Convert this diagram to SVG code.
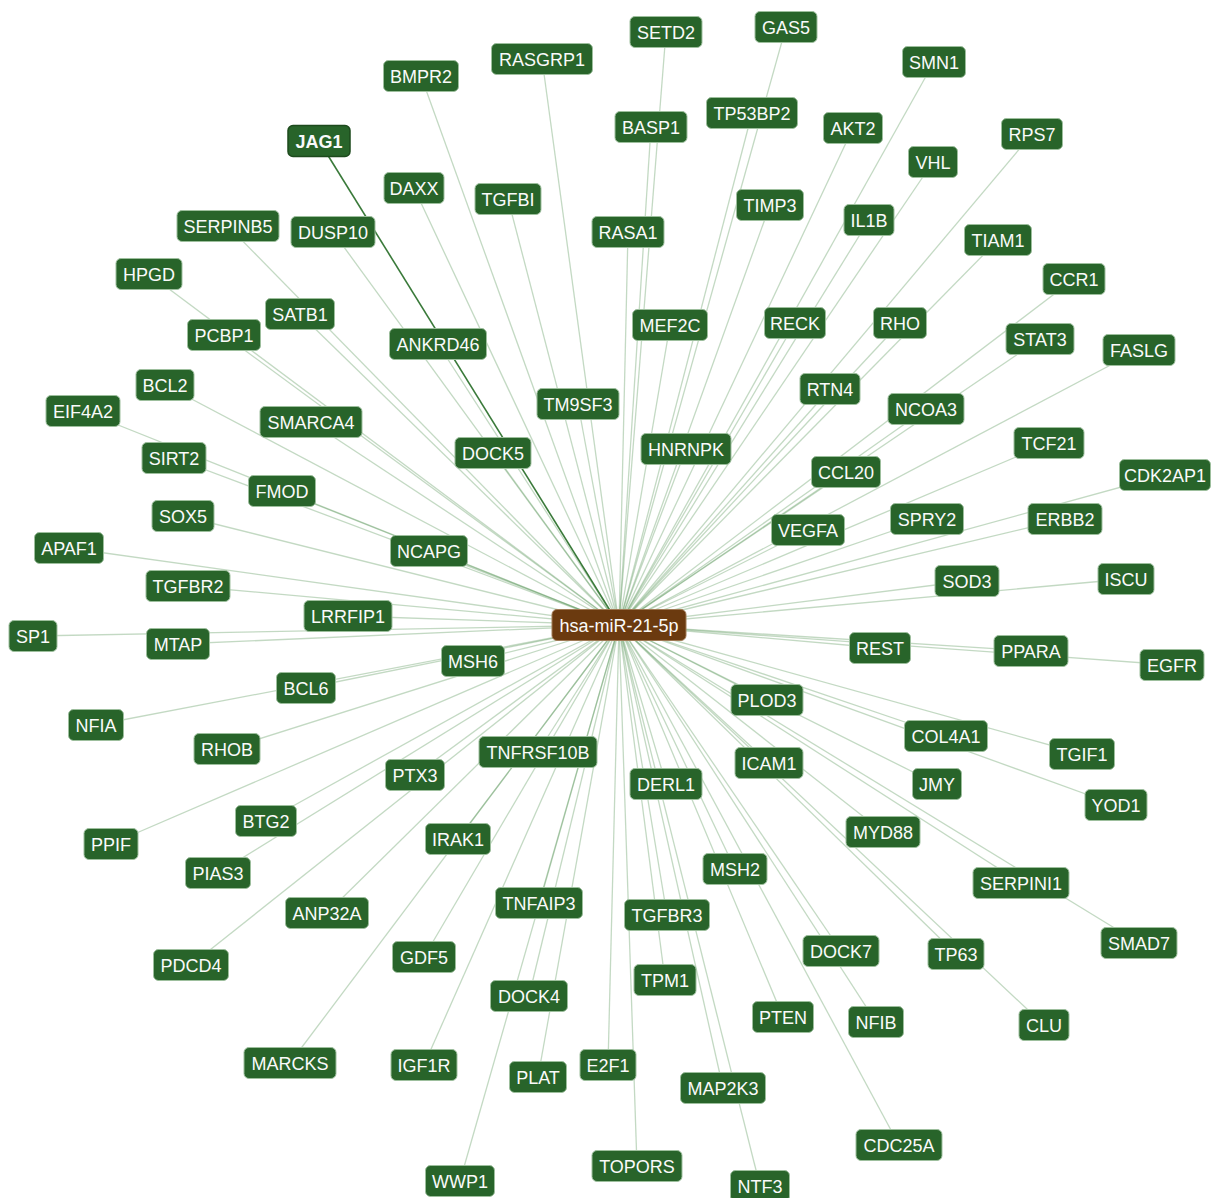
<svg xmlns="http://www.w3.org/2000/svg" width="1211" height="1198" viewBox="0 0 1211 1198">
<style>
.e line{stroke:#4f8f4f;stroke-opacity:0.34;stroke-width:1.3}
.e line.hl{stroke:#3a7a3a;stroke-opacity:1;stroke-width:1.6}
.n rect{fill:#28642a;stroke:#9dbf9d;stroke-width:1}
.n text{fill:#fafafa;font-family:"Liberation Sans",Arial,sans-serif;font-size:18px;text-anchor:middle}
.n.hl rect{stroke:#1d4a1d;stroke-width:1.5}
.n.hl text{font-weight:bold}
.c rect{fill:#6b3a0f;stroke:#a07a55;stroke-width:1}
</style>
<rect width="1211" height="1198" fill="#ffffff"/>
<g id="connectors" class="e">
<line x1="619" y1="625" x2="666" y2="32"/>
<line x1="619" y1="625" x2="786" y2="27"/>
<line x1="619" y1="625" x2="542" y2="59"/>
<line x1="619" y1="625" x2="421" y2="76"/>
<line x1="619" y1="625" x2="934" y2="62"/>
<line x1="619" y1="625" x2="752" y2="113"/>
<line x1="619" y1="625" x2="651" y2="127"/>
<line x1="619" y1="625" x2="853" y2="128"/>
<line x1="619" y1="625" x2="1032" y2="134"/>
<line class="hl" x1="619" y1="625" x2="319" y2="141"/>
<line x1="619" y1="625" x2="933" y2="162"/>
<line x1="619" y1="625" x2="414" y2="188"/>
<line x1="619" y1="625" x2="508" y2="199"/>
<line x1="619" y1="625" x2="770" y2="205"/>
<line x1="619" y1="625" x2="869" y2="220"/>
<line x1="619" y1="625" x2="228" y2="226"/>
<line x1="619" y1="625" x2="333" y2="232"/>
<line x1="619" y1="625" x2="628" y2="232"/>
<line x1="619" y1="625" x2="998" y2="240"/>
<line x1="619" y1="625" x2="149" y2="274"/>
<line x1="619" y1="625" x2="1074" y2="279"/>
<line x1="619" y1="625" x2="300" y2="314"/>
<line x1="619" y1="625" x2="670" y2="325"/>
<line x1="619" y1="625" x2="795" y2="323"/>
<line x1="619" y1="625" x2="900" y2="323"/>
<line x1="619" y1="625" x2="224" y2="335"/>
<line x1="619" y1="625" x2="438" y2="344"/>
<line x1="619" y1="625" x2="1040" y2="339"/>
<line x1="619" y1="625" x2="1139" y2="350"/>
<line x1="619" y1="625" x2="165" y2="385"/>
<line x1="619" y1="625" x2="830" y2="389"/>
<line x1="619" y1="625" x2="83" y2="411"/>
<line x1="619" y1="625" x2="578" y2="404"/>
<line x1="619" y1="625" x2="926" y2="409"/>
<line x1="619" y1="625" x2="311" y2="422"/>
<line x1="619" y1="625" x2="686" y2="449"/>
<line x1="619" y1="625" x2="493" y2="453"/>
<line x1="619" y1="625" x2="1049" y2="443"/>
<line x1="619" y1="625" x2="174" y2="458"/>
<line x1="619" y1="625" x2="846" y2="472"/>
<line x1="619" y1="625" x2="1165" y2="475"/>
<line x1="619" y1="625" x2="282" y2="491"/>
<line x1="619" y1="625" x2="183" y2="516"/>
<line x1="619" y1="625" x2="927" y2="519"/>
<line x1="619" y1="625" x2="1065" y2="519"/>
<line x1="619" y1="625" x2="808" y2="530"/>
<line x1="619" y1="625" x2="69" y2="548"/>
<line x1="619" y1="625" x2="429" y2="551"/>
<line x1="619" y1="625" x2="1126" y2="579"/>
<line x1="619" y1="625" x2="967" y2="581"/>
<line x1="619" y1="625" x2="188" y2="586"/>
<line x1="619" y1="625" x2="348" y2="616"/>
<line x1="619" y1="625" x2="33" y2="636"/>
<line x1="619" y1="625" x2="178" y2="644"/>
<line x1="619" y1="625" x2="880" y2="648"/>
<line x1="619" y1="625" x2="1031" y2="651"/>
<line x1="619" y1="625" x2="1172" y2="665"/>
<line x1="619" y1="625" x2="473" y2="661"/>
<line x1="619" y1="625" x2="306" y2="688"/>
<line x1="619" y1="625" x2="767" y2="700"/>
<line x1="619" y1="625" x2="96" y2="725"/>
<line x1="619" y1="625" x2="946" y2="736"/>
<line x1="619" y1="625" x2="227" y2="749"/>
<line x1="619" y1="625" x2="538" y2="752"/>
<line x1="619" y1="625" x2="1082" y2="754"/>
<line x1="619" y1="625" x2="769" y2="763"/>
<line x1="619" y1="625" x2="415" y2="775"/>
<line x1="619" y1="625" x2="666" y2="784"/>
<line x1="619" y1="625" x2="937" y2="784"/>
<line x1="619" y1="625" x2="1116" y2="805"/>
<line x1="619" y1="625" x2="266" y2="821"/>
<line x1="619" y1="625" x2="883" y2="832"/>
<line x1="619" y1="625" x2="458" y2="839"/>
<line x1="619" y1="625" x2="111" y2="844"/>
<line x1="619" y1="625" x2="735" y2="869"/>
<line x1="619" y1="625" x2="218" y2="873"/>
<line x1="619" y1="625" x2="1021" y2="883"/>
<line x1="619" y1="625" x2="539" y2="903"/>
<line x1="619" y1="625" x2="327" y2="913"/>
<line x1="619" y1="625" x2="667" y2="915"/>
<line x1="619" y1="625" x2="1139" y2="943"/>
<line x1="619" y1="625" x2="841" y2="951"/>
<line x1="619" y1="625" x2="956" y2="954"/>
<line x1="619" y1="625" x2="424" y2="957"/>
<line x1="619" y1="625" x2="191" y2="965"/>
<line x1="619" y1="625" x2="665" y2="980"/>
<line x1="619" y1="625" x2="529" y2="996"/>
<line x1="619" y1="625" x2="783" y2="1017"/>
<line x1="619" y1="625" x2="876" y2="1022"/>
<line x1="619" y1="625" x2="1044" y2="1025"/>
<line x1="619" y1="625" x2="290" y2="1063"/>
<line x1="619" y1="625" x2="424" y2="1065"/>
<line x1="619" y1="625" x2="608" y2="1065"/>
<line x1="619" y1="625" x2="538" y2="1077"/>
<line x1="619" y1="625" x2="723" y2="1088"/>
<line x1="619" y1="625" x2="899" y2="1145"/>
<line x1="619" y1="625" x2="637" y2="1166"/>
<line x1="619" y1="625" x2="460" y2="1181"/>
<line x1="619" y1="625" x2="760" y2="1186"/>
</g>
<g id="nodes">
<g id="n-SETD2" class="n"><rect x="630" y="16.5" width="72" height="31" rx="5"/><text x="666" y="38.5">SETD2</text></g>
<g id="n-GAS5" class="n"><rect x="755" y="11.5" width="62" height="31" rx="5"/><text x="786" y="33.5">GAS5</text></g>
<g id="n-RASGRP1" class="n"><rect x="491.5" y="43.5" width="101" height="31" rx="5"/><text x="542" y="65.5">RASGRP1</text></g>
<g id="n-BMPR2" class="n"><rect x="383.5" y="60.5" width="75" height="31" rx="5"/><text x="421" y="82.5">BMPR2</text></g>
<g id="n-SMN1" class="n"><rect x="902.5" y="46.5" width="63" height="31" rx="5"/><text x="934" y="68.5">SMN1</text></g>
<g id="n-TP53BP2" class="n"><rect x="706.5" y="97.5" width="91" height="31" rx="5"/><text x="752" y="119.5">TP53BP2</text></g>
<g id="n-BASP1" class="n"><rect x="615" y="111.5" width="72" height="31" rx="5"/><text x="651" y="133.5">BASP1</text></g>
<g id="n-AKT2" class="n"><rect x="823.5" y="112.5" width="59" height="31" rx="5"/><text x="853" y="134.5">AKT2</text></g>
<g id="n-RPS7" class="n"><rect x="1001.5" y="118.5" width="61" height="31" rx="5"/><text x="1032" y="140.5">RPS7</text></g>
<g id="n-JAG1" class="n hl"><rect x="288" y="125.5" width="62" height="31" rx="5"/><text x="319" y="147.5">JAG1</text></g>
<g id="n-VHL" class="n"><rect x="908.5" y="146.5" width="49" height="31" rx="5"/><text x="933" y="168.5">VHL</text></g>
<g id="n-DAXX" class="n"><rect x="384" y="172.5" width="60" height="31" rx="5"/><text x="414" y="194.5">DAXX</text></g>
<g id="n-TGFBI" class="n"><rect x="475" y="183.5" width="66" height="31" rx="5"/><text x="508" y="205.5">TGFBI</text></g>
<g id="n-TIMP3" class="n"><rect x="736.5" y="189.5" width="67" height="31" rx="5"/><text x="770" y="211.5">TIMP3</text></g>
<g id="n-IL1B" class="n"><rect x="844" y="204.5" width="50" height="31" rx="5"/><text x="869" y="226.5">IL1B</text></g>
<g id="n-SERPINB5" class="n"><rect x="177" y="210.5" width="102" height="31" rx="5"/><text x="228" y="232.5">SERPINB5</text></g>
<g id="n-DUSP10" class="n"><rect x="291" y="216.5" width="84" height="31" rx="5"/><text x="333" y="238.5">DUSP10</text></g>
<g id="n-RASA1" class="n"><rect x="592" y="216.5" width="72" height="31" rx="5"/><text x="628" y="238.5">RASA1</text></g>
<g id="n-TIAM1" class="n"><rect x="964.5" y="224.5" width="67" height="31" rx="5"/><text x="998" y="246.5">TIAM1</text></g>
<g id="n-HPGD" class="n"><rect x="116" y="258.5" width="66" height="31" rx="5"/><text x="149" y="280.5">HPGD</text></g>
<g id="n-CCR1" class="n"><rect x="1043" y="263.5" width="62" height="31" rx="5"/><text x="1074" y="285.5">CCR1</text></g>
<g id="n-SATB1" class="n"><rect x="265.5" y="298.5" width="69" height="31" rx="5"/><text x="300" y="320.5">SATB1</text></g>
<g id="n-MEF2C" class="n"><rect x="632.5" y="309.5" width="75" height="31" rx="5"/><text x="670" y="331.5">MEF2C</text></g>
<g id="n-RECK" class="n"><rect x="764.5" y="307.5" width="61" height="31" rx="5"/><text x="795" y="329.5">RECK</text></g>
<g id="n-RHO" class="n"><rect x="873.5" y="307.5" width="53" height="31" rx="5"/><text x="900" y="329.5">RHO</text></g>
<g id="n-PCBP1" class="n"><rect x="187.5" y="319.5" width="73" height="31" rx="5"/><text x="224" y="341.5">PCBP1</text></g>
<g id="n-ANKRD46" class="n"><rect x="389.5" y="328.5" width="97" height="31" rx="5"/><text x="438" y="350.5">ANKRD46</text></g>
<g id="n-STAT3" class="n"><rect x="1006" y="323.5" width="68" height="31" rx="5"/><text x="1040" y="345.5">STAT3</text></g>
<g id="n-FASLG" class="n"><rect x="1103" y="334.5" width="72" height="31" rx="5"/><text x="1139" y="356.5">FASLG</text></g>
<g id="n-BCL2" class="n"><rect x="136" y="369.5" width="58" height="31" rx="5"/><text x="165" y="391.5">BCL2</text></g>
<g id="n-RTN4" class="n"><rect x="800" y="373.5" width="60" height="31" rx="5"/><text x="830" y="395.5">RTN4</text></g>
<g id="n-EIF4A2" class="n"><rect x="46" y="395.5" width="74" height="31" rx="5"/><text x="83" y="417.5">EIF4A2</text></g>
<g id="n-TM9SF3" class="n"><rect x="537" y="388.5" width="82" height="31" rx="5"/><text x="578" y="410.5">TM9SF3</text></g>
<g id="n-NCOA3" class="n"><rect x="888" y="393.5" width="76" height="31" rx="5"/><text x="926" y="415.5">NCOA3</text></g>
<g id="n-SMARCA4" class="n"><rect x="260" y="406.5" width="102" height="31" rx="5"/><text x="311" y="428.5">SMARCA4</text></g>
<g id="n-HNRNPK" class="n"><rect x="641" y="433.5" width="90" height="31" rx="5"/><text x="686" y="455.5">HNRNPK</text></g>
<g id="n-DOCK5" class="n"><rect x="455" y="437.5" width="76" height="31" rx="5"/><text x="493" y="459.5">DOCK5</text></g>
<g id="n-TCF21" class="n"><rect x="1014" y="427.5" width="70" height="31" rx="5"/><text x="1049" y="449.5">TCF21</text></g>
<g id="n-SIRT2" class="n"><rect x="142" y="442.5" width="64" height="31" rx="5"/><text x="174" y="464.5">SIRT2</text></g>
<g id="n-CCL20" class="n"><rect x="811.5" y="456.5" width="69" height="31" rx="5"/><text x="846" y="478.5">CCL20</text></g>
<g id="n-CDK2AP1" class="n"><rect x="1119.5" y="459.5" width="91" height="31" rx="5"/><text x="1165" y="481.5">CDK2AP1</text></g>
<g id="n-FMOD" class="n"><rect x="248.5" y="475.5" width="67" height="31" rx="5"/><text x="282" y="497.5">FMOD</text></g>
<g id="n-SOX5" class="n"><rect x="152" y="500.5" width="62" height="31" rx="5"/><text x="183" y="522.5">SOX5</text></g>
<g id="n-SPRY2" class="n"><rect x="890.5" y="503.5" width="73" height="31" rx="5"/><text x="927" y="525.5">SPRY2</text></g>
<g id="n-ERBB2" class="n"><rect x="1028" y="503.5" width="74" height="31" rx="5"/><text x="1065" y="525.5">ERBB2</text></g>
<g id="n-VEGFA" class="n"><rect x="771.5" y="514.5" width="73" height="31" rx="5"/><text x="808" y="536.5">VEGFA</text></g>
<g id="n-APAF1" class="n"><rect x="34.5" y="532.5" width="69" height="31" rx="5"/><text x="69" y="554.5">APAF1</text></g>
<g id="n-NCAPG" class="n"><rect x="390.5" y="535.5" width="77" height="31" rx="5"/><text x="429" y="557.5">NCAPG</text></g>
<g id="n-ISCU" class="n"><rect x="1098" y="563.5" width="56" height="31" rx="5"/><text x="1126" y="585.5">ISCU</text></g>
<g id="n-SOD3" class="n"><rect x="935" y="565.5" width="64" height="31" rx="5"/><text x="967" y="587.5">SOD3</text></g>
<g id="n-TGFBR2" class="n"><rect x="146" y="570.5" width="84" height="31" rx="5"/><text x="188" y="592.5">TGFBR2</text></g>
<g id="n-LRRFIP1" class="n"><rect x="304" y="600.5" width="88" height="31" rx="5"/><text x="348" y="622.5">LRRFIP1</text></g>
<g id="n-SP1" class="n"><rect x="9" y="620.5" width="48" height="31" rx="5"/><text x="33" y="642.5">SP1</text></g>
<g id="n-MTAP" class="n"><rect x="146.5" y="628.5" width="63" height="31" rx="5"/><text x="178" y="650.5">MTAP</text></g>
<g id="n-REST" class="n"><rect x="849.5" y="632.5" width="61" height="31" rx="5"/><text x="880" y="654.5">REST</text></g>
<g id="n-PPARA" class="n"><rect x="994" y="635.5" width="74" height="31" rx="5"/><text x="1031" y="657.5">PPARA</text></g>
<g id="n-EGFR" class="n"><rect x="1140" y="649.5" width="64" height="31" rx="5"/><text x="1172" y="671.5">EGFR</text></g>
<g id="n-MSH6" class="n"><rect x="441.5" y="645.5" width="63" height="31" rx="5"/><text x="473" y="667.5">MSH6</text></g>
<g id="n-BCL6" class="n"><rect x="276.5" y="672.5" width="59" height="31" rx="5"/><text x="306" y="694.5">BCL6</text></g>
<g id="n-PLOD3" class="n"><rect x="731" y="684.5" width="72" height="31" rx="5"/><text x="767" y="706.5">PLOD3</text></g>
<g id="n-NFIA" class="n"><rect x="68.5" y="709.5" width="55" height="31" rx="5"/><text x="96" y="731.5">NFIA</text></g>
<g id="n-COL4A1" class="n"><rect x="904.5" y="720.5" width="83" height="31" rx="5"/><text x="946" y="742.5">COL4A1</text></g>
<g id="n-RHOB" class="n"><rect x="194" y="733.5" width="66" height="31" rx="5"/><text x="227" y="755.5">RHOB</text></g>
<g id="n-TNFRSF10B" class="n"><rect x="479" y="736.5" width="118" height="31" rx="5"/><text x="538" y="758.5">TNFRSF10B</text></g>
<g id="n-TGIF1" class="n"><rect x="1049.5" y="738.5" width="65" height="31" rx="5"/><text x="1082" y="760.5">TGIF1</text></g>
<g id="n-ICAM1" class="n"><rect x="735" y="747.5" width="68" height="31" rx="5"/><text x="769" y="769.5">ICAM1</text></g>
<g id="n-PTX3" class="n"><rect x="385.5" y="759.5" width="59" height="31" rx="5"/><text x="415" y="781.5">PTX3</text></g>
<g id="n-DERL1" class="n"><rect x="630" y="768.5" width="72" height="31" rx="5"/><text x="666" y="790.5">DERL1</text></g>
<g id="n-JMY" class="n"><rect x="912.5" y="768.5" width="49" height="31" rx="5"/><text x="937" y="790.5">JMY</text></g>
<g id="n-YOD1" class="n"><rect x="1085" y="789.5" width="62" height="31" rx="5"/><text x="1116" y="811.5">YOD1</text></g>
<g id="n-BTG2" class="n"><rect x="235.5" y="805.5" width="61" height="31" rx="5"/><text x="266" y="827.5">BTG2</text></g>
<g id="n-MYD88" class="n"><rect x="846" y="816.5" width="74" height="31" rx="5"/><text x="883" y="838.5">MYD88</text></g>
<g id="n-IRAK1" class="n"><rect x="425.5" y="823.5" width="65" height="31" rx="5"/><text x="458" y="845.5">IRAK1</text></g>
<g id="n-PPIF" class="n"><rect x="84" y="828.5" width="54" height="31" rx="5"/><text x="111" y="850.5">PPIF</text></g>
<g id="n-MSH2" class="n"><rect x="703" y="853.5" width="64" height="31" rx="5"/><text x="735" y="875.5">MSH2</text></g>
<g id="n-PIAS3" class="n"><rect x="185.5" y="857.5" width="65" height="31" rx="5"/><text x="218" y="879.5">PIAS3</text></g>
<g id="n-SERPINI1" class="n"><rect x="973" y="867.5" width="96" height="31" rx="5"/><text x="1021" y="889.5">SERPINI1</text></g>
<g id="n-TNFAIP3" class="n"><rect x="495.5" y="887.5" width="87" height="31" rx="5"/><text x="539" y="909.5">TNFAIP3</text></g>
<g id="n-ANP32A" class="n"><rect x="285.5" y="897.5" width="83" height="31" rx="5"/><text x="327" y="919.5">ANP32A</text></g>
<g id="n-TGFBR3" class="n"><rect x="624.5" y="899.5" width="85" height="31" rx="5"/><text x="667" y="921.5">TGFBR3</text></g>
<g id="n-SMAD7" class="n"><rect x="1101" y="927.5" width="76" height="31" rx="5"/><text x="1139" y="949.5">SMAD7</text></g>
<g id="n-DOCK7" class="n"><rect x="803" y="935.5" width="76" height="31" rx="5"/><text x="841" y="957.5">DOCK7</text></g>
<g id="n-TP63" class="n"><rect x="928" y="938.5" width="56" height="31" rx="5"/><text x="956" y="960.5">TP63</text></g>
<g id="n-GDF5" class="n"><rect x="392.5" y="941.5" width="63" height="31" rx="5"/><text x="424" y="963.5">GDF5</text></g>
<g id="n-PDCD4" class="n"><rect x="153.5" y="949.5" width="75" height="31" rx="5"/><text x="191" y="971.5">PDCD4</text></g>
<g id="n-TPM1" class="n"><rect x="634" y="964.5" width="62" height="31" rx="5"/><text x="665" y="986.5">TPM1</text></g>
<g id="n-DOCK4" class="n"><rect x="490.5" y="980.5" width="77" height="31" rx="5"/><text x="529" y="1002.5">DOCK4</text></g>
<g id="n-PTEN" class="n"><rect x="752.5" y="1001.5" width="61" height="31" rx="5"/><text x="783" y="1023.5">PTEN</text></g>
<g id="n-NFIB" class="n"><rect x="848.5" y="1006.5" width="55" height="31" rx="5"/><text x="876" y="1028.5">NFIB</text></g>
<g id="n-CLU" class="n"><rect x="1019" y="1009.5" width="50" height="31" rx="5"/><text x="1044" y="1031.5">CLU</text></g>
<g id="n-MARCKS" class="n"><rect x="244" y="1047.5" width="92" height="31" rx="5"/><text x="290" y="1069.5">MARCKS</text></g>
<g id="n-IGF1R" class="n"><rect x="391" y="1049.5" width="66" height="31" rx="5"/><text x="424" y="1071.5">IGF1R</text></g>
<g id="n-E2F1" class="n"><rect x="580" y="1049.5" width="56" height="31" rx="5"/><text x="608" y="1071.5">E2F1</text></g>
<g id="n-PLAT" class="n"><rect x="509.5" y="1061.5" width="57" height="31" rx="5"/><text x="538" y="1083.5">PLAT</text></g>
<g id="n-MAP2K3" class="n"><rect x="680.5" y="1072.5" width="85" height="31" rx="5"/><text x="723" y="1094.5">MAP2K3</text></g>
<g id="n-CDC25A" class="n"><rect x="856" y="1129.5" width="86" height="31" rx="5"/><text x="899" y="1151.5">CDC25A</text></g>
<g id="n-TOPORS" class="n"><rect x="592" y="1150.5" width="90" height="31" rx="5"/><text x="637" y="1172.5">TOPORS</text></g>
<g id="n-WWP1" class="n"><rect x="425.5" y="1165.5" width="69" height="31" rx="5"/><text x="460" y="1187.5">WWP1</text></g>
<g id="n-NTF3" class="n"><rect x="730.5" y="1170.5" width="59" height="31" rx="5"/><text x="760" y="1192.5">NTF3</text></g>
<g id="n-hsa-miR-21-5p" class="n c"><rect x="552" y="609.5" width="134" height="31" rx="5"/><text x="619" y="631.5">hsa-miR-21-5p</text></g>
</g>
</svg>
